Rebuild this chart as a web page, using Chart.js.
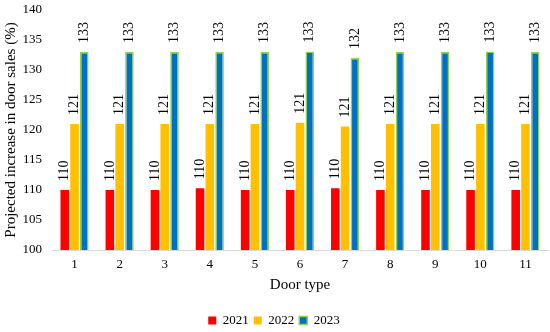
<!DOCTYPE html>
<html>
<head>
<meta charset="utf-8">
<script src="https://cdn.jsdelivr.net/npm/chart.js@4"></script>
<style>
  html, body { margin: 0; padding: 0; background: #fff; }
  #wrap { width: 550px; height: 332px; }
</style>
</head>
<body>
<div id="wrap"><canvas id="door-chart"></canvas></div>
<script>
'use strict';

var doorTypes = ['1', '2', '3', '4', '5', '6', '7', '8', '9', '10', '11'];
var years = ['2021', '2022', '2023'];
var sales2021 = [110, 110, 110, 110.3, 110, 110, 110.3, 110, 110, 110, 110];
var sales2022 = [121, 121, 121, 121, 121, 121.2, 120.6, 121, 121, 121, 121];
var sales2023 = [133, 133, 133, 133, 133, 133.1, 132, 133, 133, 133.1, 133];
var yTicks = [100, 105, 110, 115, 120, 125, 130, 135, 140];

var serif = "'Liberation Serif', 'Times New Roman', serif";

// value labels drawn vertically above each bar
var barLabels = {
    id: 'barLabels',
    afterDatasetsDraw: function(chart) {
        var ctx = chart.ctx;
        ctx.save();
        ctx.font = '14px ' + serif;
        ctx.fillStyle = '#000';
        ctx.textAlign = 'left';
        ctx.textBaseline = 'middle';
        chart.data.datasets.forEach(function(ds, i) {
            var meta = chart.getDatasetMeta(i);
            meta.data.forEach(function(bar, j) {
                ctx.save();
                ctx.translate(bar.x, bar.y - 9);
                ctx.rotate(-Math.PI / 2);
                ctx.fillText(Math.round(ds.data[j]).toString(), 0, 0);
                ctx.restore();
            });
        });
        ctx.restore();
    }
};

var ctx = document.getElementById('door-chart').getContext('2d');
var chart = new Chart(ctx, {
    type: 'bar',
    data: {
        labels: doorTypes,
        datasets: [
            { label: years[0], data: sales2021, backgroundColor: '#FF0000', borderWidth: 0 },
            { label: years[1], data: sales2022, backgroundColor: '#FFC000', borderWidth: 0 },
            { label: years[2], data: sales2023, backgroundColor: '#0070C0', borderColor: '#92D050', borderWidth: 1.5 }
        ]
    },
    options: {
        responsive: true,
        maintainAspectRatio: false,
        animation: false,
        datasets: { bar: { categoryPercentage: 0.65, barPercentage: 0.88 } },
        layout: { padding: { top: 10, right: 2, left: 0, bottom: -5 } },
        plugins: {
            legend: {
                position: 'bottom',
                labels: {
                    boxWidth: 8,
                    boxHeight: 8,
                    padding: 5,
                    color: '#000',
                    font: { family: serif, size: 13 }
                }
            },
            tooltip: { enabled: false }
        },
        scales: {
            x: {
                afterFit: function(axis) {
                    axis.height = 59;
                },
                grid: { display: false, drawTicks: false },
                border: { color: '#d9d9d9' },
                ticks: { color: '#000', padding: 7, font: { family: serif, size: 13 } },
                title: { display: true, text: 'Door type', color: '#000', padding: { top: 0, bottom: 15 }, font: { family: serif, size: 15 } }
            },
            y: {
                min: 100,
                max: 140,
                afterBuildTicks: function(axis) {
                    axis.ticks = yTicks.map(function(v) { return { value: v }; });
                },
                afterFit: function(axis) {
                    axis.paddingTop = 0;
                    axis.width = 52;
                },
                grid: { display: false, drawTicks: false },
                border: { display: false },
                ticks: { color: '#000', padding: 10, font: { family: serif, size: 13 } },
                title: { display: true, text: 'Projected increase in door sales (%)', color: '#000', padding: { top: 2, bottom: 4 }, font: { family: serif, size: 15 } }
            }
        }
    },
    plugins: [barLabels]
});
</script>
</body>
</html>
